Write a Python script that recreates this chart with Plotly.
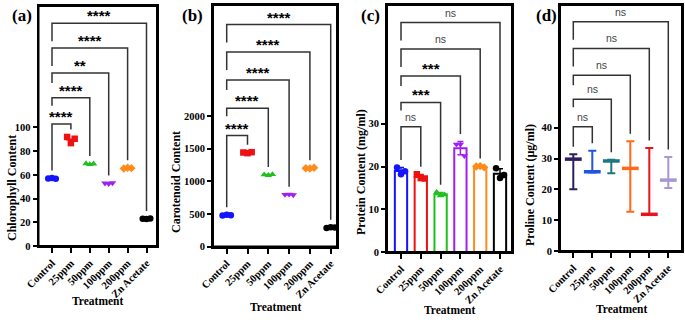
import numpy as np
import plotly.graph_objects as go

# ---------------- data ----------------
categories = ["Control", "25ppm", "50ppm", "100ppm", "200ppm", "Zn Acetate"]

chl_values = [[57.0, 57.4, 56.8], [92.0, 86.8, 90.5], [69.6, 68.8, 69.3],
              [53.0, 52.6, 53.2], [65.4, 66.0, 65.7], [23.0, 22.7, 23.2]]
car_values = [[475, 485, 480], [1440, 1430, 1445], [1100, 1090, 1105],
              [795, 800, 790], [1200, 1195, 1205], [285, 295, 290]]
pro_values = [[19.8, 18.2, 18.9], [18.2, 17.3, 17.2], [14.0, 13.2, 13.4],
              [25.2, 25.2, 22.5], [20.0, 20.1, 19.8], [19.6, 17.3, 18.0]]
prl_mean = [29.8, 25.7, 29.2, 26.8, 11.9, 23.0]
prl_min = [20.0, 25.5, 25.2, 12.7, 11.7, 20.4]
prl_max = [31.4, 32.5, 29.6, 35.6, 33.4, 30.5]

chl_sig = ["****", "****", "**", "****", "****"]
car_sig = ["****", "****", "****", "****", "****"]
pro_sig = ["ns", "***", "***", "ns", "ns"]
prl_sig = ["ns", "ns", "ns", "ns", "ns"]

chl_levels = [103, 125, 146, 167, 188]
car_levels = [1700, 2120, 2550, 2980, 3400]
pro_levels = [29.3, 35.0, 41.2, 47.5, 53.7]
prl_levels = [40.3, 49.2, 57.0, 65.7, 74.4]

chl_ticks = [0, 20, 40, 60, 80, 100]
car_ticks = [0, 500, 1000, 1500, 2000]
pro_ticks = [0, 10, 20, 30]
prl_ticks = [0, 10, 20, 30, 40]

# ---------------- style ----------------
W, H = 685, 320
col_main = ["#1414ff", "#ee1111", "#1fbf1f", "#a020f0", "#ff8c1a", "#000000"]
col_prl = ["#2d1e5e", "#2255dd", "#1b7a80", "#ff6a1a", "#e8141b", "#a797d4"]
symbols = ["circle", "square", "triangle-up", "triangle-down", "diamond", "circle"]
jitter = [-0.2, 0.0, 0.2]
SERIF = "Liberation Serif"
SANS = "Liberation Sans"

panels = [
    dict(label="(a)", lx=22, ytitle="Chlorophyll Content", ytx=12, yty=188, xt_y=301,
         x0=38.5, x1=157, top=6, bottom=246, cat0=52, step=18.9, ymax=202.5,
         ticks=chl_ticks, levels=chl_levels, sig=chl_sig),
    dict(label="(b)", lx=192, ytitle="Carotenoid Content", ytx=176, yty=182, xt_y=307,
         x0=213, x1=337, top=5, bottom=246.5, cat0=226.7, step=20.8, ymax=3700,
         ticks=car_ticks, levels=car_levels, sig=car_sig),
    dict(label="(c)", lx=370, ytitle="Protein Content (mg/ml)", ytx=361, yty=172, xt_y=310,
         x0=387, x1=512, top=5, bottom=252, cat0=401, step=19.8, ymax=57.8,
         ticks=pro_ticks, levels=pro_levels, sig=pro_sig),
    dict(label="(d)", lx=546, ytitle="Proline Content (µg/ml)", ytx=530, yty=185, xt_y=309,
         x0=560, x1=682, top=5, bottom=251, cat0=573.3, step=19.0, ymax=79.8,
         ticks=prl_ticks, levels=prl_levels, sig=prl_sig),
]

fig = go.Figure()
layout = dict(width=W, height=H, margin=dict(l=0, r=0, t=0, b=0, autoexpand=False),
              paper_bgcolor="white", plot_bgcolor="white", showlegend=False)
annotations = []
shapes = []

for k, p in enumerate(panels):
    n = "" if k == 0 else str(k + 1)
    xa, ya = "x" + n, "y" + n
    upp = p["ymax"] / (p["bottom"] - p["top"])  # units per pixel
    xr = [(p["x0"] - p["cat0"]) / p["step"], (p["x1"] - p["cat0"]) / p["step"]]
    layout["xaxis" + n] = dict(
        domain=[p["x0"] / W, p["x1"] / W], range=xr, anchor=ya, automargin=False,
        tickmode="array", tickvals=list(range(6)), ticktext=categories,
        tickangle=-45, ticks="outside", ticklen=5, tickwidth=2, tickcolor="black",
        showline=True, linewidth=2, linecolor="black", mirror=True,
        showgrid=False, zeroline=False,
        tickfont=dict(family=SERIF, size=10.5, color="black", weight="bold"))
    layout["yaxis" + n] = dict(
        domain=[1 - p["bottom"] / H, 1 - p["top"] / H], range=[0, p["ymax"]], anchor=xa,
        automargin=False,
        tickmode="array", tickvals=p["ticks"], ticks="outside", ticklen=4, tickwidth=2,
        tickcolor="black", showline=True, linewidth=2, linecolor="black", mirror=True,
        showgrid=False, zeroline=False,
        tickfont=dict(family=SERIF, size=10.5, color="black", weight="bold"))
    # frame box
    shapes.append(dict(type="rect", xref=xa + " domain", yref=ya + " domain",
                       x0=0, x1=1, y0=0, y1=1, line=dict(color="black", width=2),
                       layer="above"))

    tops = []
    if k in (0, 1):
        vals = chl_values if k == 0 else car_values
        for i, v in enumerate(vals):
            m = float(np.mean(v))
            fig.add_trace(go.Scatter(x=[i - 0.25, i + 0.25], y=[m, m], mode="lines",
                                     line=dict(color=col_main[i], width=2),
                                     xaxis=xa, yaxis=ya, hoverinfo="skip"))
            fig.add_trace(go.Scatter(x=[i + j for j in jitter], y=v, mode="markers",
                                     marker=dict(symbol=symbols[i], size=6.5, color=col_main[i]),
                                     xaxis=xa, yaxis=ya, cliponaxis=False))
            tops.append(max(v))
    elif k == 2:
        for i, v in enumerate(pro_values):
            m = float(np.mean(v))
            sd = float(np.std(v, ddof=1))
            fig.add_trace(go.Bar(x=[i], y=[m], width=0.62,
                                 marker=dict(color="white", line=dict(color=col_main[i], width=2)),
                                 error_y=dict(type="data", array=[sd], color=col_main[i],
                                              thickness=1.5, width=3),
                                 xaxis=xa, yaxis=ya))
            fig.add_trace(go.Scatter(x=[i + j for j in jitter], y=v, mode="markers",
                                     marker=dict(symbol=symbols[i], size=6.5, color=col_main[i]),
                                     xaxis=xa, yaxis=ya, cliponaxis=False))
            tops.append(max(max(v), m + sd))
    else:
        for i in range(6):
            fig.add_trace(go.Scatter(
                x=[i], y=[prl_mean[i]], mode="markers",
                marker=dict(symbol="line-ew", size=12, color=col_prl[i],
                            line=dict(color=col_prl[i], width=3.5)),
                error_y=dict(type="data", symmetric=False,
                             array=[prl_max[i] - prl_mean[i]],
                             arrayminus=[prl_mean[i] - prl_min[i]],
                             color=col_prl[i], thickness=2, width=4),
                xaxis=xa, yaxis=ya, cliponaxis=False))
            tops.append(prl_max[i])

    # significance brackets
    gap = 7.5 * upp
    drops = [8, 10, 18, 18]
    for b, lev in enumerate(p["levels"]):
        j = b + 1
        left_end = tops[0] + gap if b == 0 else lev - drops[b - 1] * upp
        right_end = tops[j] + gap
        fig.add_trace(go.Scatter(x=[0, 0, j, j], y=[left_end, lev, lev, right_end],
                                 mode="lines", line=dict(color="#333333", width=1.5),
                                 xaxis=xa, yaxis=ya, hoverinfo="skip", cliponaxis=False))
        s = p["sig"][b]
        if s == "ns":
            font = dict(family=SANS, size=10.5, color="#444444")
            ysh = 2
        else:
            font = dict(family=SANS, size=15, color="black", weight="bold")
            ysh = -3
        annotations.append(dict(x=j / 2, y=lev, xref=xa, yref=ya, text=s, showarrow=False,
                                font=font, xanchor="center", yanchor="bottom", yshift=ysh))

    # panel label, axis titles
    annotations.append(dict(x=p["lx"] / W, y=1 - 15 / H, xref="paper", yref="paper",
                            text=p["label"], showarrow=False, xanchor="center", yanchor="middle",
                            font=dict(family=SERIF, size=17, color="black", weight="bold")))
    annotations.append(dict(x=p["ytx"] / W, y=1 - p["yty"] / H, xref="paper", yref="paper",
                            text=p["ytitle"], showarrow=False, textangle=-90,
                            xanchor="center", yanchor="middle",
                            font=dict(family=SERIF, size=12, color="black", weight="bold")))
    annotations.append(dict(x=((p["x0"] + p["x1"]) / 2) / W, y=1 - p["xt_y"] / H,
                            xref="paper", yref="paper", text="Treatment", showarrow=False,
                            xanchor="center", yanchor="middle",
                            font=dict(family=SERIF, size=11.5, color="black", weight="bold")))

layout["annotations"] = annotations
layout["shapes"] = shapes
fig.update_layout(**layout)
fig.write_html("out.html", config={"displayModeBar": False},
               post_script="document.body.style.margin='0';document.body.style.padding='0';")
